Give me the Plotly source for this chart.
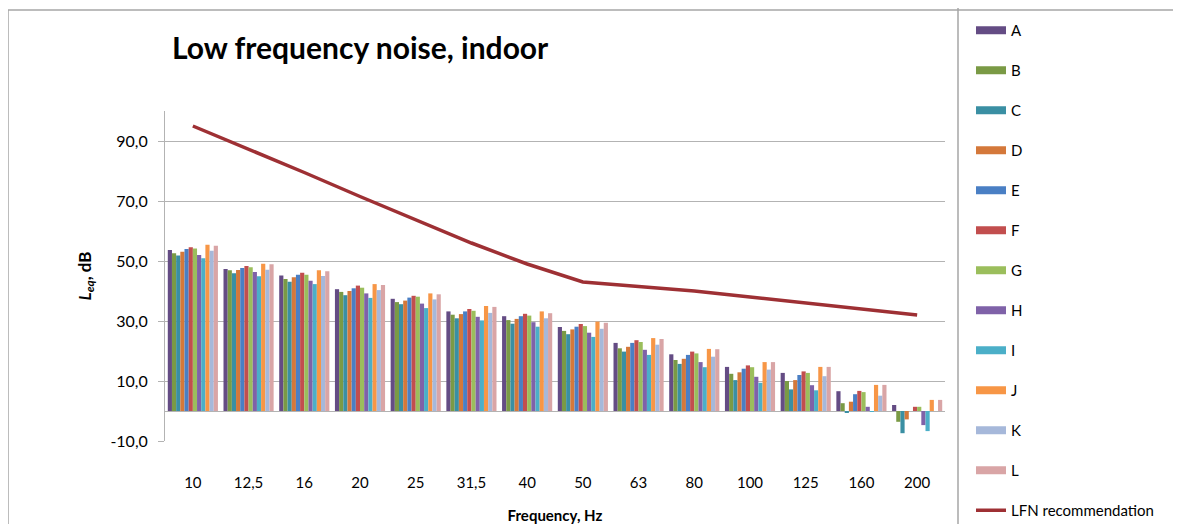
import plotly.graph_objects as go

# ---------------------------------------------------------------------------
# Data
# ---------------------------------------------------------------------------
freqs = ["10", "12,5", "16", "20", "25", "31,5", "40", "50", "63", "80",
         "100", "125", "160", "200"]

series_names = ["A", "B", "C", "D", "E", "F", "G", "H", "I", "J", "K", "L"]

A = [53.7, 47.3, 45.2, 40.6, 37.4, 33.2, 31.6, 28.0, 22.7, 18.9, 14.7, 12.7, 6.6, 2.0]
B = [52.6, 46.9, 44.0, 39.7, 36.3, 32.1, 30.3, 26.7, 20.9, 17.0, 12.4, 10.0, 2.6, -3.6]
C = [51.8, 45.9, 43.1, 38.6, 35.6, 30.9, 29.1, 25.6, 19.8, 15.7, 10.3, 7.2, -0.5, -7.4]
D = [53.1, 47.0, 44.6, 40.0, 36.8, 32.3, 30.7, 27.2, 21.4, 17.4, 12.9, 10.3, 3.1, -2.8]
E = [54.0, 47.7, 45.4, 40.9, 37.8, 33.2, 31.6, 28.1, 22.7, 18.7, 14.1, 12.0, 5.6, 0.0]
F = [54.6, 48.3, 46.1, 41.8, 38.4, 34.0, 32.4, 29.0, 23.6, 19.8, 15.2, 13.2, 6.7, 1.4]
G = [54.2, 47.9, 45.4, 41.1, 38.1, 33.4, 31.8, 28.3, 23.0, 19.2, 14.6, 12.7, 6.3, 1.4]
H = [52.0, 46.3, 43.4, 39.2, 35.8, 31.4, 29.6, 26.1, 20.4, 16.3, 11.4, 8.6, 1.4, -4.7]
I = [50.9, 44.9, 42.3, 37.7, 34.3, 30.2, 28.1, 24.7, 18.7, 14.6, 9.4, 6.9, -0.3, -6.7]
J = [55.4, 49.1, 46.9, 42.3, 39.2, 35.0, 33.2, 29.8, 24.3, 20.7, 16.3, 14.7, 8.7, 3.7]
K = [53.4, 47.1, 45.0, 40.3, 37.2, 32.7, 30.9, 27.4, 22.1, 18.1, 13.8, 11.6, 5.1, 0.0]
L = [55.1, 48.9, 46.6, 42.0, 38.9, 34.7, 32.6, 29.4, 24.0, 20.6, 16.3, 14.7, 8.7, 3.7]

lfn_recommendation = [95.0, 87.3, 79.5, 71.5, 63.7, 56.0, 49.0, 43.0, 41.5, 40.0,
                      38.0, 36.0, 34.0, 32.0]

series_values = [A, B, C, D, E, F, G, H, I, J, K, L]

ytick_vals = [-10, 10, 30, 50, 70, 90]
ytick_text = ["-10,0", "10,0", "30,0", "50,0", "70,0", "90,0"]

# ---------------------------------------------------------------------------
# Style
# ---------------------------------------------------------------------------
_COLORS = ["#644C84", "#7A9A45", "#3A8FA3", "#D4783A", "#4A7FC4", "#C24E4E",
           "#9BBE5C", "#7F62A8", "#4BAFC8", "#F79646", "#A6B8DA", "#D9A5A6"]
_LFN_COLOR  = "#9E3034"
_GRID_COLOR = "#B3B3B3"
_TEXT_COLOR = "#000000"
_FONT       = "Lato, 'Open Sans', sans-serif"

# the page body has an 8px margin: work in window pixels, shift into the figure
_OFF = 8
_W, _H = 1181 - _OFF, 524 - _OFF
# plot area in window pixels: x 165..945, y 111..441
_L, _R, _T, _B = 165 - _OFF, 945 - _OFF, 111 - _OFF, 441 - _OFF


def _px(x):
    return (x - _OFF - _L) / (_R - _L)


def _py(y):
    return (_B - (y - _OFF)) / (_B - _T)


fig = go.Figure()

for name, vals, clr in zip(series_names, series_values, _COLORS):
    fig.add_trace(go.Bar(
        x=freqs, y=vals,
        name=name,
        marker=dict(color=clr, line_width=0),
        legendgroup=name,
        showlegend=False,
    ))

# legend entries drawn as thick strokes (like the Excel swatches)
for name, clr in zip(series_names, _COLORS):
    fig.add_trace(go.Scatter(
        x=[None], y=[None],
        mode="lines",
        name=name,
        line=dict(color=clr, width=8),
        legendgroup=name,
    ))

fig.add_trace(go.Scatter(
    x=freqs, y=lfn_recommendation,
    mode="lines",
    name="LFN recommendation",
    line=dict(color=_LFN_COLOR, width=3.5),
    legendgroup="LFN",
))

# frame lines of the original chart (window pixels)
_frame = [
    (8, 10, 1181, 10),
    (8, 10, 8, 524),
    (958, 8, 958, 524),
]
shapes = [
    dict(type="line", xref="paper", yref="paper",
         x0=_px(x0), y0=_py(y0), x1=_px(x1), y1=_py(y1),
         line=dict(color="#A6A6A6", width=1.5))
    for x0, y0, x1, y1 in _frame
]

fig.update_layout(
    width=_W, height=_H,
    paper_bgcolor="white",
    plot_bgcolor="white",
    font=dict(family=_FONT, color=_TEXT_COLOR, size=14),
    margin=dict(l=_L, r=_W - _R, t=_T, b=_H - _B, autoexpand=False),
    barmode="group",
    bargap=0.1,
    bargroupgap=0,
    title=dict(
        text="<b>Low frequency noise, indoor</b>",
        font=dict(size=30, family=_FONT, color=_TEXT_COLOR),
        x=(172 - _OFF) / _W, xanchor="left",
        y=1 - (48 - _OFF) / _H, yanchor="middle",
    ),
    xaxis=dict(
        type="category",
        showgrid=False,
        showline=False,
        ticks="",
        ticklabelstandoff=31,
        tickfont=dict(size=15),
        title=dict(text="<b>Frequency, Hz</b>", font=dict(size=15), standoff=20),
    ),
    yaxis=dict(
        range=[-10, 100],
        tickvals=ytick_vals,
        ticktext=ytick_text,
        showgrid=True,
        gridcolor=_GRID_COLOR,
        gridwidth=1,
        zeroline=True,
        zerolinecolor=_GRID_COLOR,
        zerolinewidth=1,
        showline=True,
        linecolor=_GRID_COLOR,
        linewidth=1,
        ticks="outside",
        ticklen=6,
        tickcolor=_GRID_COLOR,
        ticklabelstandoff=7,
        tickfont=dict(size=16),
        title=dict(text="<b><i>L<sub>eq</sub></i>, dB</b>", font=dict(size=17), standoff=14),
    ),
    legend=dict(
        x=_px(971), xanchor="left",
        y=_py(14), yanchor="top",
        bgcolor="rgba(0,0,0,0)",
        font=dict(size=15),
        tracegroupgap=17.5,
        traceorder="grouped",
        maxheight=600,
    ),
    shapes=shapes,
)

fig.write_html("out.html")
